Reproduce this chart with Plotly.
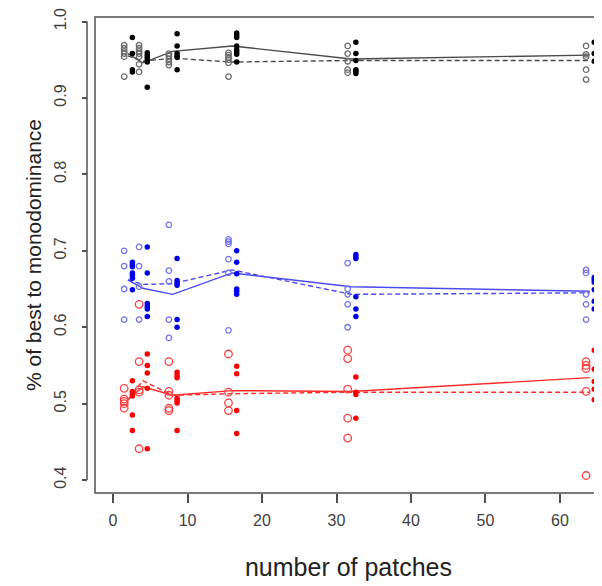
import plotly.graph_objects as go

patches = [2, 4, 8, 16, 32, 64]

black_open = [
    [0.969, 0.965, 0.961, 0.958, 0.954, 0.928],
    [0.969, 0.965, 0.961, 0.958, 0.954, 0.944, 0.934],
    [0.958, 0.955, 0.951, 0.947, 0.943],
    [0.959, 0.956, 0.953, 0.950, 0.946, 0.928],
    [0.968, 0.958, 0.948, 0.937, 0.933],
    [0.968, 0.957, 0.954, 0.937, 0.924],
]
black_filled = [
    [0.979, 0.958, 0.937, 0.934],
    [0.959, 0.956, 0.953, 0.950, 0.947, 0.914],
    [0.984, 0.968, 0.958, 0.955, 0.953, 0.937],
    [0.985, 0.982, 0.979, 0.968, 0.963, 0.960, 0.957, 0.947],
    [0.973, 0.958, 0.949, 0.937, 0.935, 0.932],
    [0.973, 0.958, 0.948],
]
black_solid = [0.958, 0.946, 0.961, 0.968, 0.951, 0.956]
black_dashed = [0.955, 0.948, 0.952, 0.947, 0.949, 0.949]

blue_open = [
    [0.700, 0.680, 0.650, 0.610],
    [0.705, 0.680, 0.653, 0.610],
    [0.734, 0.674, 0.660, 0.610, 0.586],
    [0.715, 0.712, 0.709, 0.689, 0.671, 0.596],
    [0.684, 0.650, 0.643, 0.630, 0.600],
    [0.675, 0.671, 0.643, 0.630, 0.610],
]
blue_filled = [
    [0.685, 0.682, 0.679, 0.671, 0.668, 0.664, 0.649],
    [0.705, 0.671, 0.631, 0.627, 0.624, 0.614],
    [0.690, 0.661, 0.658, 0.655, 0.610, 0.600],
    [0.700, 0.685, 0.670, 0.650, 0.647, 0.643],
    [0.695, 0.692, 0.690, 0.640, 0.624, 0.614],
    [0.665, 0.662, 0.659, 0.649, 0.634, 0.624],
]
blue_solid = [0.662, 0.651, 0.643, 0.671, 0.653, 0.647]
blue_dashed = [0.662, 0.656, 0.657, 0.675, 0.643, 0.645]

red_open = [
    [0.520, 0.506, 0.503, 0.500, 0.494],
    [0.555, 0.518, 0.515, 0.441, 0.630],
    [0.555, 0.516, 0.511, 0.494, 0.491],
    [0.565, 0.515, 0.501, 0.491],
    [0.570, 0.559, 0.519, 0.481, 0.455],
    [0.555, 0.550, 0.546, 0.516, 0.406],
]
red_filled = [
    [0.530, 0.516, 0.513, 0.510, 0.485, 0.465],
    [0.565, 0.550, 0.540, 0.520, 0.441],
    [0.541, 0.537, 0.534, 0.507, 0.504, 0.501, 0.465],
    [0.549, 0.539, 0.491, 0.461],
    [0.535, 0.515, 0.512, 0.481],
    [0.570, 0.545, 0.529, 0.519, 0.505],
]
red_solid = [0.505, 0.522, 0.511, 0.517, 0.516, 0.534]
red_dashed = [0.505, 0.530, 0.511, 0.513, 0.515, 0.515]

x_ticks = [0, 10, 20, 30, 40, 50, 60]
y_ticks = [0.4, 0.5, 0.6, 0.7, 0.8, 0.9, 1.0]

OPEN_OFF = -0.5
FILL_OFF = 0.6


def flatten(groups, offset):
    xs, ys = [], []
    for p, vals in zip(patches, groups):
        for v in vals:
            xs.append(p + offset)
            ys.append(v)
    return xs, ys


fig = go.Figure()

series = [
    (black_open, black_filled, black_solid, black_dashed, "#6a6a6a", "#000000", "#4a4a4a", 5.5),
    (blue_open, blue_filled, blue_solid, blue_dashed, "#7373f0", "#0000e6", "#4a4af5", 5.5),
    (red_open, red_filled, red_solid, red_dashed, "#ff4040", "#ff0000", "#ff2a2a", 7.5),
]

for o, f, s, d, ocol, fcol, lcol, osize in series:
    fig.add_trace(go.Scatter(x=patches, y=s, mode="lines",
                             line=dict(color=lcol, width=1.4), showlegend=False))
    fig.add_trace(go.Scatter(x=patches, y=d, mode="lines",
                             line=dict(color=lcol, width=1.4, dash="5px,3px"), showlegend=False))
    xo, yo = flatten(o, OPEN_OFF)
    fig.add_trace(go.Scatter(x=xo, y=yo, mode="markers", cliponaxis=False,
                             marker=dict(symbol="circle-open", size=osize, color=ocol,
                                         line=dict(width=1.3, color=ocol)),
                             showlegend=False))
    xf, yf = flatten(f, FILL_OFF)
    fig.add_trace(go.Scatter(x=xf, y=yf, mode="markers", cliponaxis=False,
                             marker=dict(symbol="circle", size=5.5, color=fcol,
                                         line=dict(width=0)),
                             showlegend=False))

# page body has an 8px margin; compensate so the figure fills the 602x586 window
OFF = 8
L, R, T, B = 80 - OFF, 0, 14 - OFF, 93
W, H = 602 - OFF, 586 - OFF
pw = W - L - R
x_dom0 = (95 - OFF - L) / pw
y_pos = (87 - OFF - L) / pw

axis_col = "#505050"
tick_font = dict(family="Liberation Sans, Arial, sans-serif", size=16, color="#404040")

fig.update_layout(
    width=W, height=H,
    margin=dict(l=L, r=R, t=T, b=B),
    paper_bgcolor="white", plot_bgcolor="white",
    showlegend=False,
    xaxis=dict(
        domain=[x_dom0, 1], range=[-2.42, 65.64],
        tickmode="array", tickvals=x_ticks, ticktext=[str(v) for v in x_ticks],
        ticks="outside", ticklen=9, tickwidth=1.8, tickcolor=axis_col,
        showgrid=False, zeroline=False, showline=False,
        tickfont=tick_font, ticklabelstandoff=4, ticklabeloverflow="allow",
        title=dict(text="number of patches",
                   font=dict(family="Liberation Sans, Arial, sans-serif", size=25, color="#222222"),
                   standoff=30),
    ),
    yaxis=dict(
        anchor="free", position=y_pos,
        range=[0.3831, 1.0059],
        tickmode="array", tickvals=y_ticks, ticktext=[f"{v:.1f}" for v in y_ticks],
        ticks="outside", ticklen=5, tickwidth=1.5, tickcolor=axis_col,
        showgrid=False, zeroline=False, showline=False,
        tickangle=-90, tickfont=tick_font, ticklabelstandoff=10, ticklabeloverflow="allow",
        title=dict(text="% of best to monodominance",
                   font=dict(family="Liberation Sans, Arial, sans-serif", size=21, color="#222222"),
                   standoff=3),
    ),
    shapes=[
        dict(type="rect", xref="paper", yref="paper", x0=x_dom0, x1=1.05, y0=0, y1=1,
             line=dict(color=axis_col, width=1.5)),
        dict(type="line", xref="paper", yref="y", x0=y_pos, x1=y_pos, y0=0.4, y1=1.0,
             line=dict(color=axis_col, width=1.5)),
    ],
)

fig.write_html("out.html")
